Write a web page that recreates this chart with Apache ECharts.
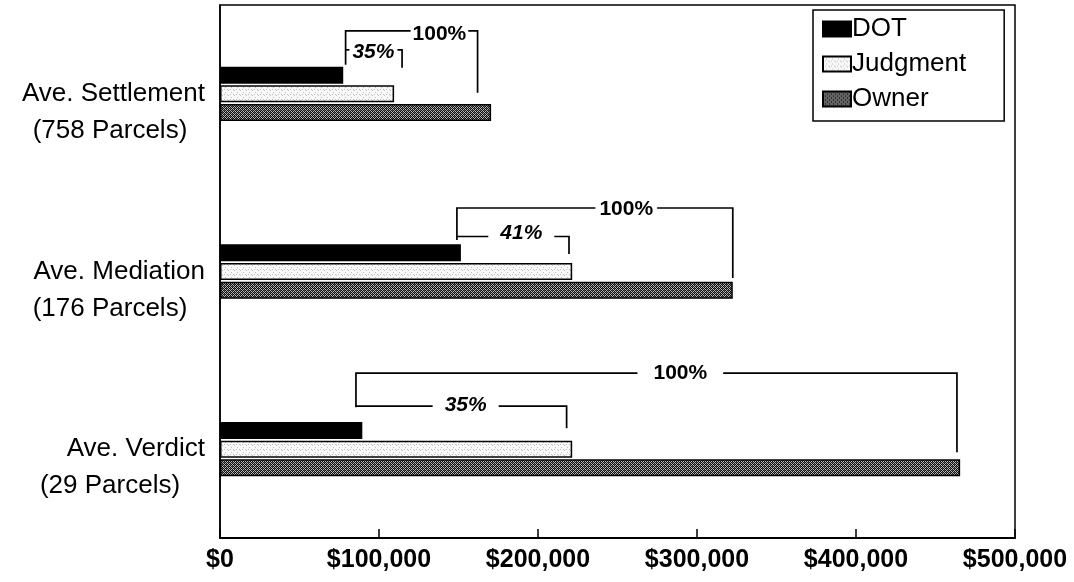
<!DOCTYPE html>
<html><head><meta charset="utf-8">
<script src="https://cdn.jsdelivr.net/npm/echarts@6/dist/echarts.min.js"></script>
<style>html,body{margin:0;padding:0;background:#fff}#c{width:1074px;height:582px}</style>
</head><body><div id="c"></div>
<script>
// ---- data ----
const categories = ['Ave. Settlement', 'Ave. Mediation', 'Ave. Verdict'];
const parcels = ['(758 Parcels)', '(176 Parcels)', '(29 Parcels)'];
const seriesNames = ['DOT', 'Judgment', 'Owner'];
const dotValues = [77500, 151500, 89500];
const judgmentValues = [109500, 221500, 221500];
const ownerValues = [170500, 322500, 465500];
const xTickValues = [0, 100000, 200000, 300000, 400000, 500000];
// bracket annotations (in data units)
const bracketLeft = [79000, 149000, 85500];
const bracketMid = [114500, 219500, 218000];
const bracketRight = [162000, 322500, 463500];
const midLabels = ['35%', '41%', '35%'];
const fullLabels = ['100%', '100%', '100%'];
const midLabelAt = [96500, 189500, 154500];
const fullLabelAt = [138000, 255500, 289500];

// ---- layout / styling of brackets (pixel offsets from category centre) ----
const bracketLayout = [
  {top: -63, leftBottom: -29, rightBottom: -1, mid: -44, midBottom: -26, midTextDy: 2, fullTextDy: 3, fullPad: 2, midPad: 3},
  {top: -63.5, leftBottom: -31.5, rightBottom: 6.5, mid: -35, midBottom: -17.5, midTextDy: -3, fullTextDy: 1, fullPad: 4, midPad: 12},
  {top: -76, leftBottom: -42, rightBottom: 3, mid: -43, midBottom: -21, midTextDy: -1, fullTextDy: 0, fullPad: 16, midPad: 12}
];
const FONT = "'Liberation Sans', Arial, sans-serif";
const fullFont = {fontSize: 21, fontWeight: 'bold', fontStyle: 'normal'};
const midFont = {fontSize: 21, fontWeight: 'bold', fontStyle: 'italic'};

const mctx = document.createElement('canvas').getContext('2d');
function measure(t, f) {
  mctx.font = f.fontStyle + ' ' + f.fontWeight + ' ' + f.fontSize + 'px ' + FONT;
  return mctx.measureText(t).width;
}

function ownerPattern() {
  const cv = document.createElement('canvas');
  cv.width = 4; cv.height = 4;
  const g = cv.getContext('2d');
  g.fillStyle = '#111'; g.fillRect(0, 0, 4, 4);
  g.fillStyle = '#b8b8b8';
  [[0,0],[2,0],[1,1],[3,1],[0,2],[2,2],[1,3],[3,3]].forEach(p => g.fillRect(p[0], p[1], 1, 1));
  g.fillStyle = '#555';
  [[2,0],[0,2]].forEach(p => g.fillRect(p[0], p[1], 1, 1));
  return {image: cv, repeat: 'repeat'};
}
function judgmentPattern() {
  const cv = document.createElement('canvas');
  cv.width = 6; cv.height = 5;
  const g = cv.getContext('2d');
  g.fillStyle = '#f8f8f8'; g.fillRect(0, 0, 6, 5);
  g.fillStyle = '#bdbdbd';
  [[0,0],[3,2],[5,4],[2,4]].forEach(p => g.fillRect(p[0], p[1], 1, 1));
  return {image: cv, repeat: 'repeat'};
}

function renderBracket(params, api) {
  const i = api.value(5);
  const L = bracketLayout[i];
  const cy = api.coord([0, i])[1];
  const X = k => api.coord([api.value(k), i])[0];
  const xl = X(0), xm = X(1), xr = X(2), xf = X(3), xmt = X(4);
  const wf = measure(fullLabels[i], fullFont), wm = measure(midLabels[i], midFont);
  const yTop = cy + L.top, yMid = cy + L.mid;
  const line = pts => ({type: 'polyline', shape: {points: pts}, style: {stroke: '#000', lineWidth: 1.7, fill: null}});
  const children = [];
  children.push(line([[xl, cy + L.leftBottom], [xl, yTop], [xf - wf / 2 - L.fullPad, yTop]]));
  children.push(line([[xf + wf / 2 + L.fullPad, yTop], [xr, yTop], [xr, cy + L.rightBottom]]));
  const a = xmt - wm / 2 - L.midPad;
  if (a > xl) children.push(line([[xl, yMid], [a, yMid]]));
  children.push(line([[Math.min(xmt + wm / 2 + L.midPad, xm), yMid], [xm, yMid], [xm, cy + L.midBottom]]));
  children.push({type: 'text', x: xf, y: yTop + L.fullTextDy, style: Object.assign({text: fullLabels[i], fontFamily: FONT, fill: '#000', align: 'center', verticalAlign: 'middle'}, fullFont)});
  children.push({type: 'text', x: xmt, y: yMid + L.midTextDy, style: Object.assign({text: midLabels[i], fontFamily: FONT, fill: '#000', align: 'center', verticalAlign: 'middle'}, midFont)});
  return {type: 'group', children};
}

const chart = echarts.init(document.getElementById('c'), null, {renderer: 'canvas'});
const barCommon = {type: 'bar', barWidth: 17, barGap: '10%', barCategoryGap: '60%'};
const option = {
  animation: false,
  backgroundColor: '#fff',
  textStyle: {fontFamily: FONT},
  grid: {left: 220, right: 59, top: 5, bottom: 44, show: true, borderColor: '#000', borderWidth: 1.5, containLabel: false, outerBoundsMode: 'none'},
  legend: {
    orient: 'vertical', left: 813, top: 10, icon: 'rect', itemWidth: 28, itemHeight: 15, itemGap: 9,
    padding: [6, 38, 9, 9], borderColor: '#000', borderWidth: 1.5, backgroundColor: '#fff',
    textStyle: {fontSize: 26, lineHeight: 26, color: '#000', fontFamily: FONT, padding: [0, 0, 0, -4]},
    data: seriesNames
  },
  xAxis: {
    type: 'value', min: xTickValues[0], max: xTickValues[xTickValues.length - 1], interval: xTickValues[1] - xTickValues[0],
    axisLine: {show: true, lineStyle: {color: '#000', width: 2}},
    axisTick: {show: true, inside: true, length: 9, lineStyle: {color: '#000', width: 1.5}},
    splitLine: {show: false},
    axisLabel: {color: '#000', fontSize: 25, fontWeight: 'bold', fontFamily: FONT, margin: 10,
      formatter: v => '$' + v.toLocaleString('en-US')}
  },
  yAxis: {
    type: 'category', inverse: true, data: categories,
    axisLine: {show: true, lineStyle: {color: '#000', width: 1.5}},
    axisTick: {show: false},
    axisLabel: {
      color: '#000', fontSize: 26, fontFamily: FONT, margin: 15, lineHeight: 37, width: 190, align: 'right',
      formatter: (v, i) => '\n{a|' + v + '}\n{b|' + parcels[i] + '}',
      rich: {
        a: {fontSize: 26, lineHeight: 37, align: 'right', color: '#000', fontFamily: FONT},
        b: {fontSize: 26, lineHeight: 37, align: 'center', color: '#000', fontFamily: FONT}
      }
    }
  },
  series: [
    Object.assign({name: seriesNames[0], data: dotValues, itemStyle: {color: '#000', borderColor: '#000', borderWidth: 1.5}}, barCommon),
    Object.assign({name: seriesNames[1], data: judgmentValues, itemStyle: {color: judgmentPattern(), borderColor: '#000', borderWidth: 1.5}}, barCommon),
    Object.assign({name: seriesNames[2], data: ownerValues, itemStyle: {color: ownerPattern(), borderColor: '#000', borderWidth: 1.5}}, barCommon),
    {
      type: 'custom', name: 'brackets', silent: true, clip: false,
      renderItem: renderBracket,
      encode: {x: [0, 1, 2, 3, 4], y: 5},
      data: categories.map((c, i) => [bracketLeft[i], bracketMid[i], bracketRight[i], fullLabelAt[i], midLabelAt[i], i]),
      z: 5
    }
  ]
};
chart.setOption(option);
</script></body></html>
